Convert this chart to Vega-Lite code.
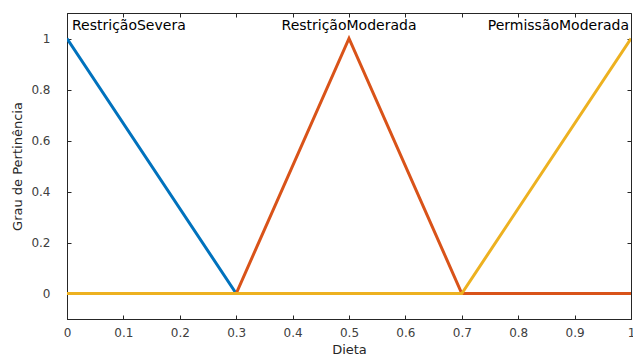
{
  "$schema": "https://vega.github.io/schema/vega-lite/v6.json",
  "autosize": "none",
  "width": 564,
  "height": 306,
  "padding": {"left": 67, "top": 13, "right": 2, "bottom": 40},
  "background": "white",
  "config": {
    "view": {"stroke": "#262626", "strokeWidth": 1},
    "axis": {"grid": false, "domainColor": "#262626", "tickColor": "#262626", "labelColor": "#404040", "titleColor": "#262626", "labelFont": "DejaVu Sans", "titleFont": "DejaVu Sans", "labelFontSize": 12, "titleFontSize": 13, "titleFontWeight": "normal", "tickSize": -4, "tickWidth": 1}
  },
  "datasets": {
    "mf": [
      {"serie": "RestriçãoSevera", "x": 0, "y": 1},
      {"serie": "RestriçãoSevera", "x": 0.3, "y": 0},
      {"serie": "RestriçãoSevera", "x": 1, "y": 0},
      {"serie": "RestriçãoModerada", "x": 0, "y": 0},
      {"serie": "RestriçãoModerada", "x": 0.3, "y": 0},
      {"serie": "RestriçãoModerada", "x": 0.5, "y": 1},
      {"serie": "RestriçãoModerada", "x": 0.7, "y": 0},
      {"serie": "RestriçãoModerada", "x": 1, "y": 0},
      {"serie": "PermissãoModerada", "x": 0, "y": 0},
      {"serie": "PermissãoModerada", "x": 0.7, "y": 0},
      {"serie": "PermissãoModerada", "x": 1, "y": 1}
    ],
    "labels": [
      {"serie": "RestriçãoSevera", "x": 0, "y": 1.05},
      {"serie": "RestriçãoModerada", "x": 0.5, "y": 1.05},
      {"serie": "PermissãoModerada", "x": 1, "y": 1.05}
    ]
  },
  "layer": [
    {
      "data": {"name": "mf"},
      "transform": [{"filter": "datum.serie === 'RestriçãoSevera'"}],
      "mark": {"type": "line", "color": "#0072BD", "strokeWidth": 3, "clip": true},
      "encoding": {
        "x": {"field": "x", "type": "quantitative", "scale": {"domain": [0, 1], "nice": false},
          "axis": {"title": "Dieta", "values": [0, 0.1, 0.2, 0.3, 0.4, 0.5, 0.6, 0.7, 0.8, 0.9, 1], "format": "~g", "labelPadding": 12, "titlePadding": 5, "labelFlush": false}},
        "y": {"field": "y", "type": "quantitative", "scale": {"domain": [-0.1, 1.1], "nice": false},
          "axis": {"title": "Grau de Pertinência", "values": [0, 0.2, 0.4, 0.6, 0.8, 1], "format": "~g", "labelPadding": 21, "titlePadding": 6}}
      }
    },
    {
      "data": {"name": "mf"},
      "transform": [{"filter": "datum.serie === 'RestriçãoModerada'"}],
      "mark": {"type": "line", "color": "#D95319", "strokeWidth": 3, "clip": true},
      "encoding": {
        "x": {"field": "x", "type": "quantitative", "axis": null},
        "y": {"field": "y", "type": "quantitative", "axis": null}
      }
    },
    {
      "data": {"name": "mf"},
      "transform": [{"filter": "datum.serie === 'PermissãoModerada'"}],
      "mark": {"type": "line", "color": "#EDB120", "strokeWidth": 3, "clip": true},
      "encoding": {
        "x": {"field": "x", "type": "quantitative", "axis": null},
        "y": {"field": "y", "type": "quantitative", "axis": null}
      }
    },
    {
      "data": {"name": "labels"},
      "transform": [{"filter": "datum.serie === 'RestriçãoSevera'"}],
      "mark": {"type": "text", "align": "left", "baseline": "middle", "dx": 5, "font": "DejaVu Sans", "fontSize": 14, "color": "#000000"},
      "encoding": {
        "x": {"field": "x", "type": "quantitative", "axis": null},
        "y": {"field": "y", "type": "quantitative", "axis": null},
        "text": {"field": "serie"}
      }
    },
    {
      "data": {"name": "labels"},
      "transform": [{"filter": "datum.serie === 'RestriçãoModerada'"}],
      "mark": {"type": "text", "align": "center", "baseline": "middle", "font": "DejaVu Sans", "fontSize": 14, "color": "#000000"},
      "encoding": {
        "x": {"field": "x", "type": "quantitative", "axis": null},
        "y": {"field": "y", "type": "quantitative", "axis": null},
        "text": {"field": "serie"}
      }
    },
    {
      "data": {"name": "labels"},
      "transform": [{"filter": "datum.serie === 'PermissãoModerada'"}],
      "mark": {"type": "text", "align": "right", "baseline": "middle", "dx": -2, "font": "DejaVu Sans", "fontSize": 14, "color": "#000000"},
      "encoding": {
        "x": {"field": "x", "type": "quantitative", "axis": {"orient": "top", "labels": false, "title": null, "values": [0, 0.1, 0.2, 0.3, 0.4, 0.5, 0.6, 0.7, 0.8, 0.9, 1], "domain": false}},
        "y": {"field": "y", "type": "quantitative", "axis": {"orient": "right", "labels": false, "title": null, "values": [0, 0.2, 0.4, 0.6, 0.8, 1], "domain": false}},
        "text": {"field": "serie"}
      }
    }
  ],
  "resolve": {"axis": {"x": "independent", "y": "independent"}}
}
